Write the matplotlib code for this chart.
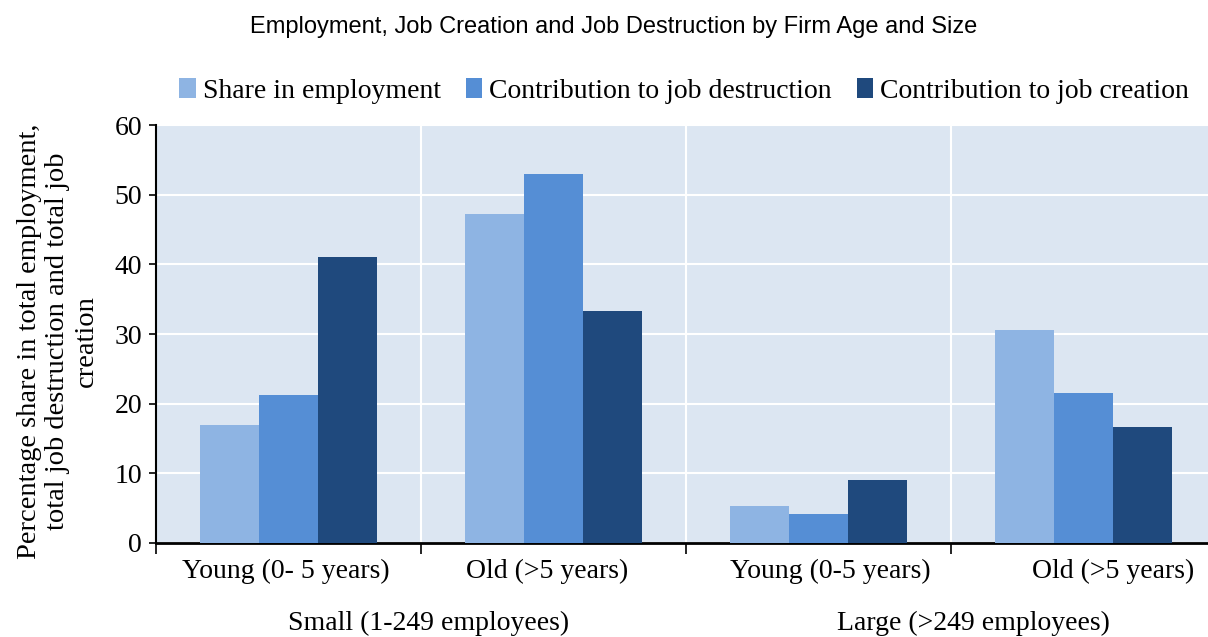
import matplotlib

matplotlib.use("Agg")
import matplotlib.pyplot as plt
import numpy as np

categories = ["Young (0- 5 years)", "Old (>5 years)", "Young (0-5 years)", "Old (>5 years)"]
groups = ["Small (1-249 employees)", "Large (>249 employees)"]
series = ["Share in employment", "Contribution to job destruction", "Contribution to job creation"]
share_employment = [16.9, 47.2, 5.3, 30.6]
job_destruction = [21.3, 52.9, 4.1, 21.5]
job_creation = [41.0, 33.3, 9.0, 16.6]

colors = ["#8EB4E3", "#558ED5", "#1F497D"]
serif = "Liberation Serif"
fs = 20

fig = plt.figure(figsize=(12.08, 6.37), dpi=100)
ax = fig.add_axes([156 / 1208, 1 - 543 / 637, 1 - 156 / 1208, 418 / 637])
ax.set_facecolor("#DCE6F2")

x = np.arange(len(categories))
w = 0.2226
for k, (vals, name) in enumerate(zip([share_employment, job_destruction, job_creation], series)):
    ax.bar(x + (k - 1) * w, vals, w, color=colors[k], label=name, zorder=3)

ax.set_xlim(-0.5, 3.47)
ax.set_ylim(0, 60)
ax.set_yticks(range(0, 61, 10))
ax.set_yticklabels([str(v) for v in range(0, 61, 10)], fontfamily=serif, fontsize=fs)
ax.yaxis.grid(True, color="white", linewidth=1.5, zorder=1)
# category boundaries: vertical grid lines and ticks
bounds = np.arange(-0.5, 3.0, 1.0)
for b in bounds[1:]:
    ax.axvline(b, color="white", linewidth=1.5, zorder=1)
ax.set_xticks(bounds)
ax.set_xticklabels([])
ax.tick_params(axis="x", length=8, width=1.2, direction="out")
ax.tick_params(axis="y", length=5, width=1.2, direction="out", pad=5)
for s in ["top", "right"]:
    ax.spines[s].set_visible(False)
ax.spines["left"].set_linewidth(1.5)
ax.spines["bottom"].set_linewidth(2)

label_offsets = [-0.01, -0.025, 0.043, 0.111]
for i, lab in enumerate(categories):
    ax.text(i + label_offsets[i], -0.067, lab, transform=ax.get_xaxis_transform(),
            ha="center", va="center", fontfamily=serif, fontsize=fs)
group_offsets = [0.03, 0.083]
for j, g in enumerate(groups):
    ax.text(0.5 + 2 * j + group_offsets[j], -0.193, g, transform=ax.get_xaxis_transform(),
            ha="center", va="center", fontfamily=serif, fontsize=fs)

fig.text(58 / 1208, 1 - 341 / 637,
         "Percentage share in total employment,\ntotal job destruction and total job\ncreation",
         rotation=90, ha="center", va="center", multialignment="center",
         fontfamily=serif, fontsize=20.5, linespacing=1.2)

ax.legend(loc="center", bbox_to_anchor=(0.502, 1.081), ncol=3, frameon=False,
          prop={"family": serif, "size": fs}, handlelength=0.6, handleheight=0.7,
          handletextpad=0.25, columnspacing=0.9)

fig.text(614 / 1208, 1 - 27 / 637, "Employment, Job Creation and Job Destruction by Firm Age and Size",
         ha="center", va="center", fontfamily="Liberation Sans", fontsize=17)

fig.savefig("out.png", dpi=100)
